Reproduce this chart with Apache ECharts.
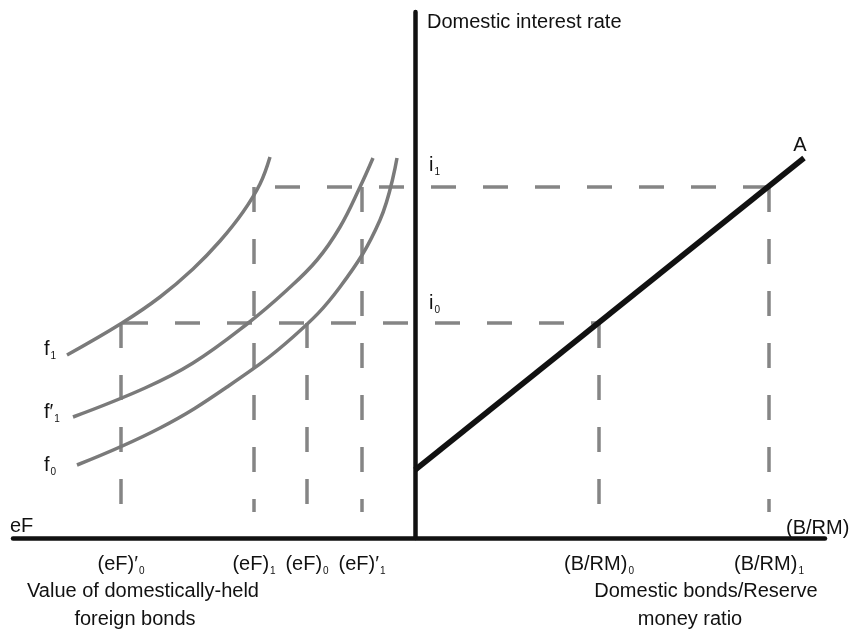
<!DOCTYPE html>
<html><head><meta charset="utf-8">
<script src="https://cdn.jsdelivr.net/npm/echarts@6/dist/echarts.min.js"></script>
<style>html,body{margin:0;padding:0;background:#fff}#c{width:852px;height:631px}</style>
</head><body><div id="c"></div>
<script>
// Abstract diagram units: x < 0 = foreign-bond quadrant, x > 0 = B/RM quadrant; y = interest rate
const curveF1  = [[-348,183],[-293,215],[-255,241],[-222,269],[-195,297],[-172,326],[-155,354],[-145,381]];
const curveF1p = [[-342,121],[-270,150],[-222,175],[-168,214],[-128,248],[-98,278],[-75,311],[-55,351],[-42,380]];
const curveF0  = [[-338,73],[-255,110],[-188,151],[-122,201],[-75,251],[-35,318],[-18,380]];
const lineA = [[0,68],[389,380]];
const rateI0 = 215, rateI1 = 351;
const tickValues = [-294, -161, -108, -53, 184, 354];
const tickLabels = ['(eF)′{s|0}', '(eF){s|1}', '(eF){s|0}', '(eF)′{s|1}', '(B/RM){s|0}', '(B/RM){s|1}'];
const tickLevels = [rateI0, rateI1, rateI0, rateI1, rateI0, rateI1];
const dashBottom = 26;
const hDashI1 = [[-140, rateI1], [354, rateI1]];
const hDashI0 = [[-292, rateI0], [184, rateI0]];

const FONT = 'Liberation Sans, Arial, Helvetica, sans-serif';
const GREY = '#858585';
const dashStyle = {color: GREY, width: 3.5, type: [25, 27]};

const series = [];
series.push({type:'line', data: hDashI1, symbol:'none', lineStyle: dashStyle, silent:true, z:1});
series.push({type:'line', data: hDashI0, symbol:'none', lineStyle: dashStyle, silent:true, z:1});
tickValues.forEach((v, i) => {
  series.push({type:'line', data: [[v, tickLevels[i]], [v, dashBottom]], symbol:'none', lineStyle: dashStyle, silent:true, z:1});
});
[curveF1, curveF1p, curveF0].forEach(d => {
  series.push({type:'line', data: d, smooth: 0.4, symbol:'none', lineStyle:{color:'#7a7a7a', width:3.5}, z:2});
});
series.push({type:'line', data: lineA, symbol:'none', lineStyle:{color:'#111', width:5.5}, z:3});

const rich = {s: {fontSize: 10, fontFamily: FONT, color:'#111', padding:[14,0,0,1]}};
const labelMap = {};
tickValues.forEach((v, i) => labelMap[v] = tickLabels[i]);

function txt(x, y, text, align, extra) {
  return Object.assign({type:'text', x: x, y: y, style: {text: text, fontSize: 20, fontFamily: FONT, fill: '#111',
    align: align || 'left', verticalAlign: 'middle', rich: rich}}, extra || {});
}

const chart = echarts.init(document.getElementById('c'), null, {renderer:'canvas'});
chart.setOption({
  animation: false,
  backgroundColor: '#fff',
  grid: {left: 13, right: 27, top: 12, bottom: 93},
  xAxis: {
    type: 'value', min: -402, max: 410,
    axisLine: {show: true, onZero: true, lineStyle: {color: '#111', width: 4.5}},
    axisTick: {show: false},
    splitLine: {show: false},
    axisLabel: {
      customValues: tickValues,
      formatter: v => labelMap[v] || '',
      fontSize: 20, fontFamily: FONT, color: '#111', margin: 14,
      rich: rich
    }
  },
  yAxis: {
    type: 'value', min: 0, max: 526,
    axisLine: {show: true, onZero: true, lineStyle: {color: '#111', width: 4.5}},
    axisTick: {show: false},
    splitLine: {show: false},
    axisLabel: {show: false}
  },
  series: series,
  graphic: [
    txt(427, 22, 'Domestic interest rate'),
    txt(800, 145, 'A', 'center'),
    txt(429, 165, 'i{s|1}'),
    txt(429, 303, 'i{s|0}'),
    txt(44, 349, 'f{s|1}'),
    txt(44, 412, 'f′{s|1}'),
    txt(44, 465, 'f{s|0}'),
    txt(10, 526, 'eF'),
    txt(786, 528, '(B/RM)'),
    txt(143, 591, 'Value of domestically-held', 'center'),
    txt(135, 619, 'foreign bonds', 'center'),
    txt(706, 591, 'Domestic bonds/Reserve', 'center'),
    txt(690, 619, 'money ratio', 'center')
  ]
});
</script>
</body></html>
